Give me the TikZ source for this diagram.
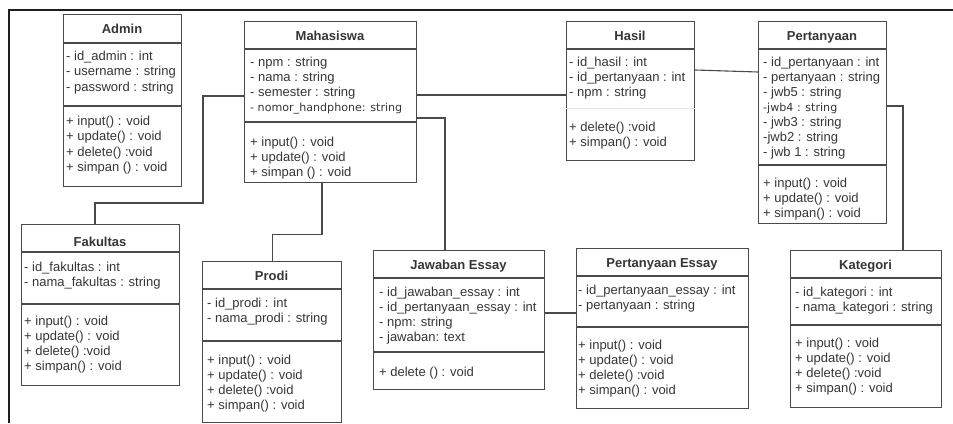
\documentclass[tikz,border=0pt]{standalone}
\usepackage{fontspec}
\setmainfont{Liberation Sans}
\newfontfamily\widefont{DejaVu Sans}
\definecolor{ink}{HTML}{363636}
\definecolor{boxgray}{HTML}{4A4A4A}
\definecolor{wire}{HTML}{4A4A4A}
\definecolor{framec}{HTML}{1E1E1E}
\newcommand{\smallwide}{\widefont\fontsize{11.1}{15}\selectfont}
\begin{document}
\begin{tikzpicture}[x=1pt,y=-1pt,
  umlbox/.style={draw=boxgray, line width=1.1pt, fill=white, anchor=north west, inner sep=0pt},
  divider/.style={draw=boxgray, line width=1.1pt},
  faintdiv/.style={draw=boxgray!15, line width=0.8pt},
  umltitle/.style={font=\fontsize{13}{15}\selectfont\bfseries, text=ink, anchor=base, inner sep=0pt},
  umltext/.style={font=\fontsize{13}{15}\selectfont, text=ink, align=left, anchor=north west, inner sep=0pt, execute at begin node=\strut},
  loosetext/.style={umltext, font=\fontsize{13}{15.5}\selectfont},
  wireline/.style={draw=wire, line width=1.1pt},
]
\useasboundingbox (0,0) rectangle (953,423);

% outer frame
\draw[framec, line width=2.6pt] (953,10) -- (9,10);
\draw[framec, line width=1.6pt] (9,9) -- (9,423);

% ---- Admin
\node[umlbox, minimum width=118pt, minimum height=172pt] (admin) at (63,14) {};
\draw[divider] (admin.west |- 0,43) -- (admin.east |- 0,43);
\draw[divider] (admin.west |- 0,106) -- (admin.east |- 0,106);
\node[umltitle] (admin-title) at (122,33.7) {Admin};
\node[loosetext] (admin-attr) at (66,50.5) {- id\_admin : int\\- username : string\\- password : string};
\node[loosetext] (admin-ops) at (66,115.5) {+ input() : void\\+ update() : void\\+ delete() :void\\+ simpan () : void};

% ---- Mahasiswa
\node[umlbox, minimum width=172pt, minimum height=161pt] (mhs) at (244,21) {};
\draw[divider] (mhs.west |- 0,49) -- (mhs.east |- 0,49);
\draw[divider] (mhs.west |- 0,122) -- (mhs.east |- 0,122);
\node[umltitle] (mhs-title) at (330,40.7) {Mahasiswa};
\node[umltext] (mhs-attr) at (250,56.5) {- npm : string\\- nama : string\\- semester : string\\{\smallwide - nomor\_handphone: string}};
\node[umltext] (mhs-ops) at (250,136.5) {+ input() : void\\+ update() : void\\+ simpan () : void};

% ---- Hasil
\node[umlbox, minimum width=128pt, minimum height=139pt] (hasil) at (566,21) {};
\draw[divider] (hasil.west |- 0,49) -- (hasil.east |- 0,49);
\draw[faintdiv] (hasil.west |- 0,108) -- (hasil.east |- 0,108);
\node[umltitle] (hasil-title) at (630,40.7) {Hasil};
\node[umltext] (hasil-attr) at (569,56.5) {- id\_hasil : int\\- id\_pertanyaan : int\\- npm : string};
\node[umltext] (hasil-ops) at (569,121.5) {+ delete() :void\\+ simpan() : void};

% ---- Pertanyaan
\node[umlbox, minimum width=128pt, minimum height=202pt] (per) at (758,21) {};
\draw[divider] (per.west |- 0,49) -- (per.east |- 0,49);
\draw[divider] (per.west |- 0,165) -- (per.east |- 0,165);
\node[umltitle] (per-title) at (822,40.7) {Pertanyaan};
\node[umltext] (per-attr) at (763,56.5) {- id\_pertanyaan : int\\- pertanyaan : string\\- jwb5 : string\\{\smallwide -jwb4 : string}\\- jwb3 : string\\-jwb2 : string\\- jwb 1 : string};
\node[umltext] (per-ops) at (763,177.5) {+ input() : void\\+ update() : void\\+ simpan() : void};

% ---- Fakultas
\node[umlbox, minimum width=158pt, minimum height=161pt] (fak) at (21,224) {};
\draw[divider] (fak.west |- 0,252) -- (fak.east |- 0,252);
\draw[divider] (fak.west |- 0,304) -- (fak.east |- 0,304);
\node[umltitle] (fak-title) at (100,246.7) {Fakultas};
\node[umltext] (fak-attr) at (24,261.5) {- id\_fakultas : int\\- nama\_fakultas : string};
\node[umltext] (fak-ops) at (24,315.5) {+ input() : void\\+ update() : void\\+ delete() :void\\+ simpan() : void};

% ---- Prodi
\node[umlbox, minimum width=139pt, minimum height=161pt] (prodi) at (202,261) {};
\draw[divider] (prodi.west |- 0,289) -- (prodi.east |- 0,289);
\draw[divider] (prodi.west |- 0,341) -- (prodi.east |- 0,341);
\node[umltitle] (prodi-title) at (271.5,280.7) {Prodi};
\node[umltext] (prodi-attr) at (207,297.5) {- id\_prodi : int\\- nama\_prodi : string};
\node[umltext] (prodi-ops) at (207,354.5) {+ input() : void\\+ update() : void\\+ delete() :void\\+ simpan() : void};

% ---- Jawaban Essay
\node[umlbox, minimum width=171pt, minimum height=139pt] (jaw) at (373,250) {};
\draw[divider] (jaw.west |- 0,278) -- (jaw.east |- 0,278);
\draw[divider] (jaw.west |- 0,352) -- (jaw.east |- 0,352);
\node[umltitle] (jaw-title) at (458.5,269.7) {Jawaban Essay};
\node[umltext] (jaw-attr) at (379,286.5) {- id\_jawaban\_essay : int\\- id\_pertanyaan\_essay : int\\- npm: string\\- jawaban: text};
\node[umltext] (jaw-ops) at (379,365.5) {+ delete () : void};

% ---- Pertanyaan Essay
\node[umlbox, minimum width=172pt, minimum height=160pt] (pe) at (576,248) {};
\draw[divider] (pe.west |- 0,276) -- (pe.east |- 0,276);
\draw[divider] (pe.west |- 0,327) -- (pe.east |- 0,327);
\node[umltitle] (pe-title) at (662,267.7) {Pertanyaan Essay};
\node[umltext] (pe-attr) at (578,284.5) {- id\_pertanyaan\_essay : int\\- pertanyaan : string};
\node[umltext] (pe-ops) at (578,339.5) {+ input() : void\\+ update() : void\\+ delete() :void\\+ simpan() : void};

% ---- Kategori
\node[umlbox, minimum width=151pt, minimum height=157pt] (kat) at (790,250) {};
\draw[divider] (kat.west |- 0,278) -- (kat.east |- 0,278);
\draw[divider] (kat.west |- 0,325) -- (kat.east |- 0,325);
\node[umltitle] (kat-title) at (865.5,269.7) {Kategori};
\node[umltext] (kat-attr) at (795,286.5) {- id\_kategori : int\\- nama\_kategori : string};
\node[umltext] (kat-ops) at (795,337.5) {+ input() : void\\+ update() : void\\+ delete() :void\\+ simpan() : void};

% ---- associations
\draw[wireline] ([xshift=74pt]fak.north west) |- (203,203) |- ([yshift=-75pt]mhs.north west);
\draw[wireline] ([xshift=78pt]mhs.south west) -- ++(0,51) -| (prodi.north);
\draw[wireline] ([yshift=-74pt]mhs.north east) -- ([yshift=-74pt]hasil.north west);
\draw[wireline] ([yshift=-97pt]mhs.north east) -| ([xshift=72pt]jaw.north west);
\draw[wireline] ([yshift=-49pt]hasil.north east) -- ([yshift=-51pt]per.north west);
\draw[wireline] ([yshift=-85pt]per.north east) -| ([xshift=113pt]kat.north west);
\draw[wireline] ([yshift=-63pt]jaw.north east) -- ([yshift=-65pt]pe.north west);
\end{tikzpicture}
\end{document}
